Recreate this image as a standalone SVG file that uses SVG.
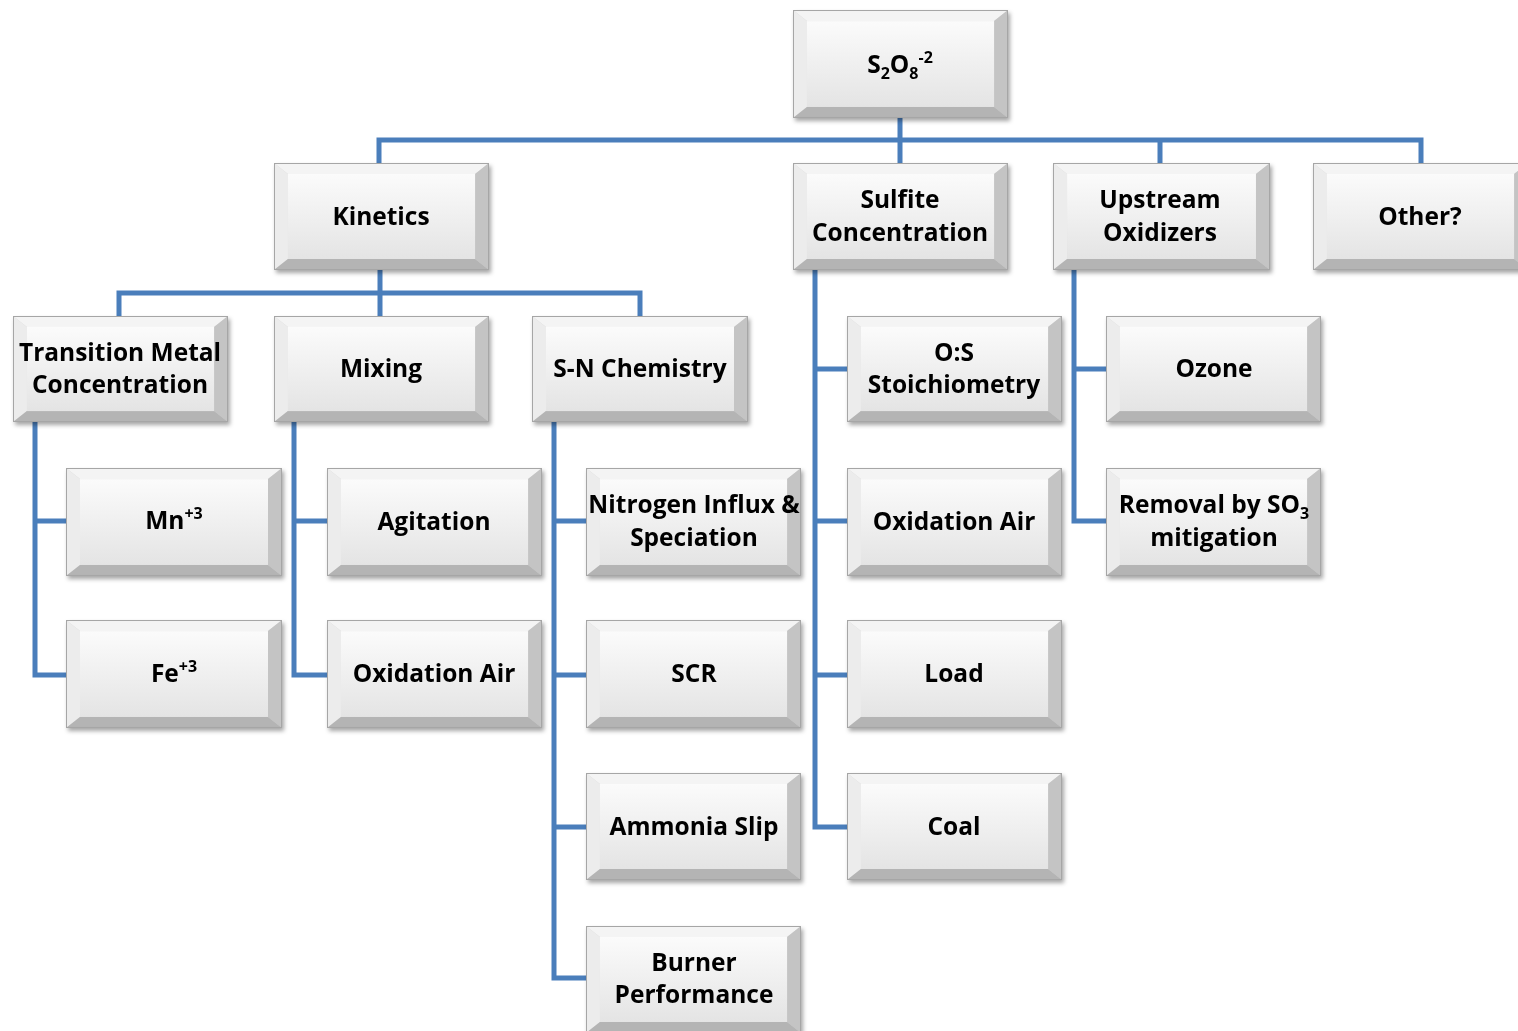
<svg xmlns="http://www.w3.org/2000/svg" xmlns:xlink="http://www.w3.org/1999/xlink" width="1518" height="1031" viewBox="0 0 1518 1031">
<style>
.t{font-family:"Open Sans","Liberation Sans",sans-serif;font-weight:700;font-size:24.5px;fill:#000;text-anchor:middle}
.c{fill:none;stroke:#4a7ebb;stroke-width:5;stroke-linejoin:miter;stroke-linecap:butt}
</style>
<defs>
<linearGradient id="face" x1="0" y1="0" x2="0" y2="1">
<stop offset="0" stop-color="#fbfbfb"/>
<stop offset="1" stop-color="#e4e4e4"/>
</linearGradient>
<filter id="sh" x="-10%" y="-10%" width="130%" height="140%">
<feDropShadow dx="2" dy="3" stdDeviation="2" flood-color="#000" flood-opacity="0.35"/>
</filter>
<symbol id="box" viewBox="0 0 216 107" preserveAspectRatio="none">
<rect x="0" y="0" width="216" height="107" fill="#d8d8d8"/>
<polygon points="0,0 216,0 202,11 14,11" fill="#f4f4f4"/>
<polygon points="0,0 14,11 14,96 0,107" fill="#ececec"/>
<polygon points="216,0 216,107 202,96 202,11" fill="#c4c4c4"/>
<polygon points="0,107 14,96 202,96 216,107" fill="#b4b4b4"/>
<rect x="14" y="11" width="188" height="85" fill="url(#face)"/>
<rect x="0.5" y="0.5" width="215" height="106" fill="none" stroke="#a6a6a6" stroke-width="1"/>
</symbol>
</defs>
<rect width="1518" height="1031" fill="#fff"/>
<g id="connectors">
<path class="c" d="M900,118 V140 M379,163 V140 H1421 V163 M900,140 V163 M1160,140 V163"/>
<path class="c" d="M380,270 V293 M119,316 V293 H640 V316 M380,293 V316"/>
<path class="c" d="M35,422 V675 H66 M35,521 H66"/>
<path class="c" d="M294,422 V675 H327 M294,521 H327"/>
<path class="c" d="M554,422 V978 H586 M554,521 H586 M554,675 H586 M554,827 H586"/>
<path class="c" d="M815,270 V827 H847 M815,369 H847 M815,521 H847 M815,675 H847"/>
<path class="c" d="M1074,270 V521 H1106 M1074,369 H1106"/>
</g>
<g filter="url(#sh)">
<g id="n-s2o8"><use xlink:href="#box" x="793" y="10" width="215" height="108"/><text class="t" x="900" y="73">S<tspan font-size="16" dy="6">2</tspan><tspan dy="-6">O</tspan><tspan font-size="16" dy="6">8</tspan><tspan font-size="16" dy="-16">-2</tspan></text></g>
<g id="n-kinetics"><use xlink:href="#box" x="274" y="163" width="215" height="107"/><text class="t" x="381" y="225">Kinetics</text></g>
<g id="n-sulfite"><use xlink:href="#box" x="793" y="163" width="215" height="107"/><text class="t" x="900" y="208">Sulfite</text><text class="t" x="900" y="241">Concentration</text></g>
<g id="n-upstream"><use xlink:href="#box" x="1053" y="163" width="217" height="107"/><text class="t" x="1160" y="208">Upstream</text><text class="t" x="1160" y="241">Oxidizers</text></g>
<g id="n-other"><use xlink:href="#box" x="1313" y="163" width="215" height="107"/><text class="t" x="1420" y="225">Other?</text></g>
<g id="n-transition"><use xlink:href="#box" x="13" y="316" width="215" height="106"/><text class="t" x="120" y="361">Transition Metal</text><text class="t" x="120" y="393">Concentration</text></g>
<g id="n-mixing"><use xlink:href="#box" x="274" y="316" width="215" height="106"/><text class="t" x="381" y="377">Mixing</text></g>
<g id="n-sn"><use xlink:href="#box" x="532" y="316" width="216" height="106"/><text class="t" x="640" y="377">S-N Chemistry</text></g>
<g id="n-os"><use xlink:href="#box" x="847" y="316" width="215" height="106"/><text class="t" x="954" y="361">O:S</text><text class="t" x="954" y="393">Stoichiometry</text></g>
<g id="n-ozone"><use xlink:href="#box" x="1106" y="316" width="215" height="106"/><text class="t" x="1214" y="377">Ozone</text></g>
<g id="n-mn"><use xlink:href="#box" x="66" y="468" width="216" height="108"/><text class="t" x="174" y="529">Mn<tspan font-size="16" dy="-10">+3</tspan></text></g>
<g id="n-agitation"><use xlink:href="#box" x="327" y="468" width="215" height="108"/><text class="t" x="434" y="530">Agitation</text></g>
<g id="n-nitrogen"><use xlink:href="#box" x="586" y="468" width="215" height="108"/><text class="t" x="694" y="513">Nitrogen Influx &amp;</text><text class="t" x="694" y="546">Speciation</text></g>
<g id="n-oxair1"><use xlink:href="#box" x="847" y="468" width="215" height="108"/><text class="t" x="954" y="530">Oxidation Air</text></g>
<g id="n-removal"><use xlink:href="#box" x="1106" y="468" width="215" height="108"/><text class="t" x="1214" y="513">Removal by SO<tspan font-size="16" dy="6">3</tspan></text><text class="t" x="1214" y="546">mitigation</text></g>
<g id="n-fe"><use xlink:href="#box" x="66" y="620" width="216" height="108"/><text class="t" x="174" y="682">Fe<tspan font-size="16" dy="-10">+3</tspan></text></g>
<g id="n-oxair2"><use xlink:href="#box" x="327" y="620" width="215" height="108"/><text class="t" x="434" y="682">Oxidation Air</text></g>
<g id="n-scr"><use xlink:href="#box" x="586" y="620" width="215" height="108"/><text class="t" x="694" y="682">SCR</text></g>
<g id="n-load"><use xlink:href="#box" x="847" y="620" width="215" height="108"/><text class="t" x="954" y="682">Load</text></g>
<g id="n-ammonia"><use xlink:href="#box" x="586" y="773" width="215" height="107"/><text class="t" x="694" y="835">Ammonia Slip</text></g>
<g id="n-coal"><use xlink:href="#box" x="847" y="773" width="215" height="107"/><text class="t" x="954" y="835">Coal</text></g>
<g id="n-burner"><use xlink:href="#box" x="586" y="926" width="215" height="107"/><text class="t" x="694" y="971">Burner</text><text class="t" x="694" y="1003">Performance</text></g>
</g>
</svg>
